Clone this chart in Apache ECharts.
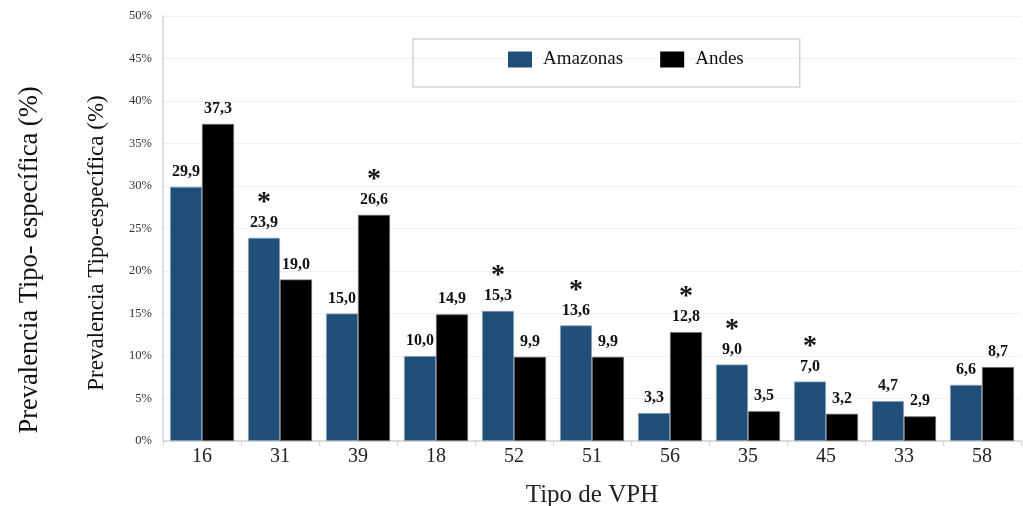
<!DOCTYPE html>
<html>
<head>
<meta charset="utf-8">
<script src="https://cdn.jsdelivr.net/npm/echarts@6/dist/echarts.min.js"></script>
<style>
  html, body { margin: 0; padding: 0; background: #ffffff; }
  #chart { width: 1023px; height: 506px; }
</style>
</head>
<body>
<div id="chart"></div>
<script>
// Tipos de VPH en el eje X
const tipos = ['16', '31', '39', '18', '52', '51', '56', '35', '45', '33', '58'];
// Prevalencia tipo-específica (%) por región
const amazonas = [29.9, 23.9, 15.0, 10.0, 15.3, 13.6, 3.3, 9.0, 7.0, 4.7, 6.6];
const andes    = [37.3, 19.0, 26.6, 14.9, 9.9, 9.9, 12.8, 3.5, 3.2, 2.9, 8.7];
// Diferencias significativas (asterisco sobre la barra)
const sigAmazonas = [false, true, false, false, true, true, false, true, true, false, false];
const sigAndes    = [false, false, true, false, false, false, true, false, false, false, false];

const SERIF = '"Liberation Serif", "Times New Roman", serif';
const AZUL = '#1f4e79';

function etiqueta(sig) {
  return function (p) {
    const txt = p.value.toFixed(1).replace('.', ',');
    return sig[p.dataIndex] ? '{s|*}\n{v|' + txt + '}' : '{v|' + txt + '}';
  };
}
const richLabel = {
  v: { fontFamily: SERIF, fontWeight: 'bold', fontSize: 16, color: '#111', lineHeight: 18 },
  s: { fontFamily: SERIF, fontWeight: 'bold', fontSize: 28, color: '#111', lineHeight: 22 }
};

const chart = echarts.init(document.getElementById('chart'));
chart.setOption({
  animation: false,
  backgroundColor: '#ffffff',
  grid: { left: 163, right: 2, top: 16, bottom: 65, outerBoundsMode: 'none' },
  legend: {
    data: ['Amazonas', 'Andes'],
    icon: 'rect',
    left: 413,
    top: 39,
    itemWidth: 24,
    itemHeight: 16,
    itemGap: 37,
    padding: [11, 56, 18, 95],
    borderColor: '#d4d4d4',
    borderWidth: 1.5,
    itemStyle: { borderWidth: 0 },
    textStyle: { fontFamily: SERIF, fontSize: 19, color: '#111', padding: [0, 0, 0, 6] }
  },
  xAxis: {
    type: 'category',
    data: tipos,
    axisLine: { lineStyle: { color: '#d4d4d4', width: 1.5 } },
    axisTick: { show: true, length: 5, lineStyle: { color: '#d4d4d4' } },
    axisLabel: { fontFamily: SERIF, fontSize: 20, color: '#222', margin: 6 },
    name: 'Tipo de VPH',
    nameLocation: 'middle',
    nameGap: 42,
    nameTextStyle: { fontFamily: SERIF, fontSize: 25, color: '#222' }
  },
  yAxis: {
    type: 'value',
    min: 0,
    max: 50,
    interval: 5,
    axisLine: { show: true, lineStyle: { color: '#d4d4d4', width: 1.5 } },
    axisTick: { show: false },
    splitLine: { lineStyle: { color: '#f0f0f0' } },
    axisLabel: { fontFamily: SERIF, fontSize: 12.5, color: '#333', margin: 11, formatter: '{value}%' }
  },
  graphic: [
    {
      type: 'text', x: 30, y: 260, rotation: Math.PI / 2,
      style: { text: 'Prevalencia Tipo- específica (%)', font: '26.5px ' + SERIF, fill: '#111', align: 'center', verticalAlign: 'middle' }
    },
    {
      type: 'text', x: 97, y: 243, rotation: Math.PI / 2,
      style: { text: 'Prevalencia Tipo-específica (%)', font: '23px ' + SERIF, fill: '#111', align: 'center', verticalAlign: 'middle' }
    }
  ],
  series: [
    {
      name: 'Amazonas',
      type: 'bar',
      data: amazonas,
      barGap: '0%',
      barCategoryGap: '18%',
      itemStyle: { color: AZUL, borderColor: '#8aa0b8', borderWidth: 0.8 },
      label: { show: true, position: 'top', distance: 6, formatter: etiqueta(sigAmazonas), rich: richLabel, align: 'center' }
    },
    {
      name: 'Andes',
      type: 'bar',
      data: andes,
      itemStyle: { color: '#000000', borderColor: '#666666', borderWidth: 0.8 },
      label: { show: true, position: 'top', distance: 6, formatter: etiqueta(sigAndes), rich: richLabel, align: 'center' }
    }
  ]
});
</script>
</body>
</html>
